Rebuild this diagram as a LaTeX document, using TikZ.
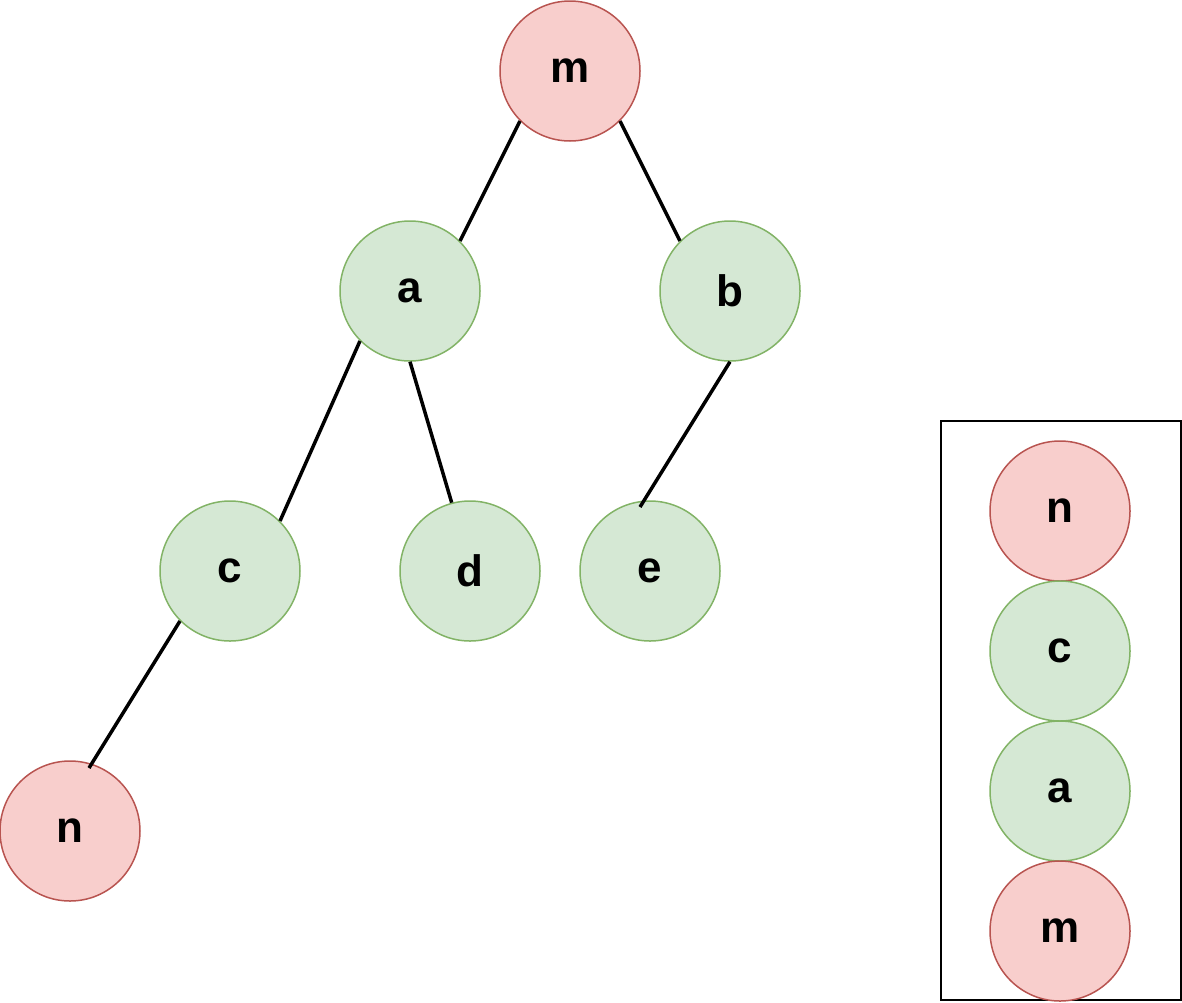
\documentclass[tikz,border=0pt]{standalone}
\usetikzlibrary{calc}
\usepackage{fontspec}
\setmainfont{Liberation Sans}
\definecolor{rfill}{HTML}{F8CECC}
\definecolor{rdraw}{HTML}{B85450}
\definecolor{gfill}{HTML}{D5E8D4}
\definecolor{gdraw}{HTML}{82B366}
\begin{document}
\begin{tikzpicture}[x=1pt,y=-1pt,
  vnode/.style={circle,minimum size=140pt,inner sep=0pt,line width=1.5pt,font=\fontsize{44}{44}\selectfont\bfseries},
  rnode/.style={vnode,fill=rfill,draw=rdraw},
  gnode/.style={vnode,fill=gfill,draw=gdraw},
  edge/.style={line width=3.5pt,black}]
\useasboundingbox (0,0) rectangle (1182,1002);
\node[rnode] (m) at (570,71) {m};
\node[gnode] (a) at (410,291) {a};
\node[gnode] (b) at (730,291) {b};
\node[gnode] (c) at (230,571) {c};
\node[gnode] (d) at (470,571) {d};
\node[gnode] (e) at (650,571) {e};
\node[rnode] (n) at (70,831) {n};
\coordinate (eend) at ($(e)+(-10,-64)$);
\coordinate (nend) at ($(n)+(19,-63)$);
\draw[edge] (m.south west) -- (a.north east);
\draw[edge] (m.south east) -- (b.north west);
\draw[edge] (a.south west) -- (c.north east);
\draw[edge] (a.south) -- (d.105);
\draw[edge] (b.south) -- (eend);
\draw[edge] (c.south west) -- (nend);
\node[draw,line width=2pt,minimum width=240pt,minimum height=579pt,inner sep=0pt] (box) at (1061,710.5) {};
\node[rnode] (sn) at (1060,511) {n};
\node[gnode] (sc) at (1060,651) {c};
\node[gnode] (sa) at (1060,791) {a};
\node[rnode] (sm) at (1060,931) {m};
\end{tikzpicture}
\end{document}
